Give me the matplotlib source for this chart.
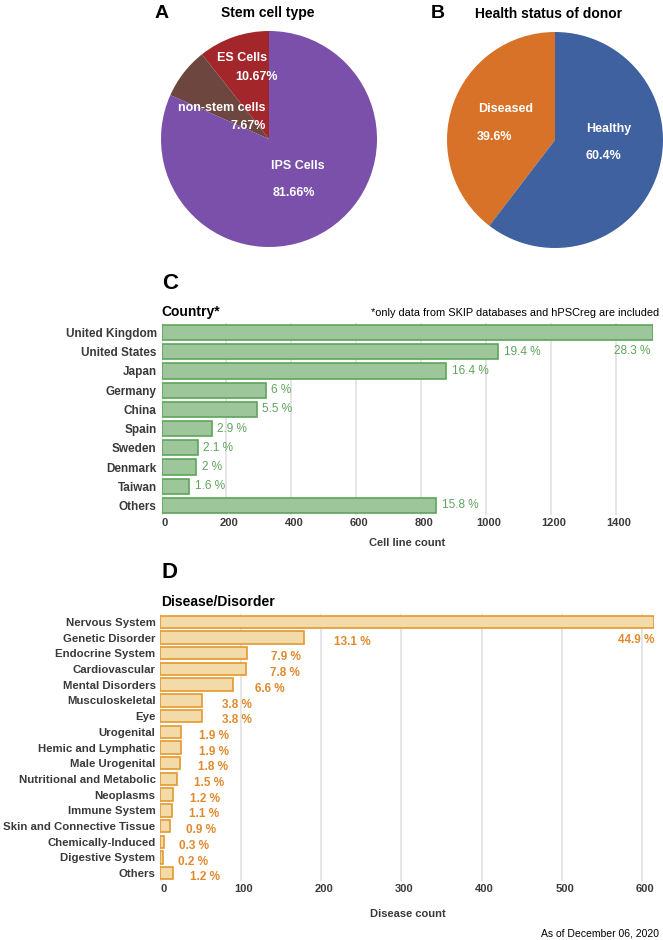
import matplotlib
matplotlib.use("Agg")
import matplotlib.pyplot as plt
import matplotlib.transforms as mtransforms

plt.rcParams["font.family"] = ["Liberation Sans", "DejaVu Sans"]

# Panel A: stem cell type
stem_labels = ["ES Cells", "non-stem cells", "IPS Cells"]
stem_pct = [10.67, 7.67, 81.66]
stem_colors = ["#a3262b", "#6c463f", "#7a50aa"]

# Panel B: donor health status
health_labels = ["Diseased", "Healthy"]
health_pct = [39.6, 60.4]
health_colors = ["#d87228", "#3f61a0"]

# Panel C: country
countries = ["United Kingdom", "United States", "Japan", "Germany", "China",
             "Spain", "Sweden", "Denmark", "Taiwan", "Others"]
country_counts = [1515, 1038, 878, 321, 294, 155, 112, 107, 86, 846]
country_pct = ["28.3 %", "19.4 %", "16.4 %", "6 %", "5.5 %",
               "2.9 %", "2.1 %", "2 %", "1.6 %", "15.8 %"]
country_ticks = [0, 200, 400, 600, 800, 1000, 1200, 1400]

# Panel D: disease / disorder
diseases = ["Nervous System", "Genetic Disorder", "Endocrine System", "Cardiovascular",
            "Mental Disorders", "Musculoskeletal", "Eye", "Urogenital",
            "Hemic and Lymphatic", "Male Urogenital", "Nutritional and Metabolic",
            "Neoplasms", "Immune System", "Skin and Connective Tissue",
            "Chemically-Induced", "Digestive System", "Others"]
disease_counts = [615, 179, 108, 107, 90, 52, 52, 26, 26, 25, 21, 16, 15, 12, 4, 3, 16]
disease_pct = ["44.9 %", "13.1 %", "7.9 %", "7.8 %", "6.6 %", "3.8 %", "3.8 %", "1.9 %",
               "1.9 %", "1.8 %", "1.5 %", "1.2 %", "1.1 %", "0.9 %", "0.3 %", "0.2 %", "1.2 %"]
disease_ticks = [0, 100, 200, 300, 400, 500, 600]

W, H = 663, 940
fig = plt.figure(figsize=(W / 100, H / 100), dpi=100)


def px_axes(left, top, width, height):
    return fig.add_axes([left / W, 1 - (top + height) / H, width / W, height / H])


def fig_text(x, y, s, **kw):
    fig.text(x / W, 1 - y / H, s, **kw)


def draw_pie(ax, values, colors):
    ax.pie(values, colors=colors, startangle=90, counterclock=True,
           wedgeprops=dict(linewidth=0))
    ax.set_xlim(-1, 1)
    ax.set_ylim(-1, 1)
    ax.set_aspect("equal")
    ax.axis("off")


txt = dict(color="white", fontsize=9, fontweight="bold", ha="center", va="center")

# --- A
ax_a = px_axes(161, 31, 216, 216)
draw_pie(ax_a, stem_pct, stem_colors)
ax_a.text(-0.25, 0.75, stem_labels[0], **txt)
ax_a.text(-0.12, 0.57, f"{stem_pct[0]}%", **txt)
ax_a.text(-0.44, 0.29, stem_labels[1], **txt)
ax_a.text(-0.19, 0.12, f"{stem_pct[1]}%", **txt)
ax_a.text(0.27, -0.25, stem_labels[2], **txt)
ax_a.text(0.23, -0.50, f"{stem_pct[2]}%", **txt)
fig_text(162, 14, "A", fontsize=14, fontweight="bold", ha="center", va="center")
fig_text(268, 13, "Stem cell type", fontsize=10, fontweight="bold", ha="center", va="center")

# --- B
ax_b = px_axes(447, 32, 216, 216)
draw_pie(ax_b, health_pct, health_colors)
ax_b.text(-0.46, 0.29, health_labels[0], **txt)
ax_b.text(-0.56, 0.03, f"{health_pct[0]}%", **txt)
ax_b.text(0.50, 0.10, health_labels[1], **txt)
ax_b.text(0.45, -0.15, f"{health_pct[1]}%", **txt)
fig_text(438, 14, "B", fontsize=14, fontweight="bold", ha="center", va="center")
fig_text(549, 14, "Health status of donor", fontsize=10, fontweight="bold", ha="center", va="center")

# tick labels sit a few px right of their grid line in the original
shift = mtransforms.ScaledTranslation(2 / 72, 0, fig.dpi_scale_trans)


def style_bar_axes(ax, ticks, xmax, ysize):
    ax.set_xlim(0, xmax)
    ax.set_xticks(ticks)
    ax.grid(axis="x", color="#e3e3e3", linewidth=1.3)
    ax.set_axisbelow(True)
    for s in ax.spines.values():
        s.set_visible(False)
    ax.tick_params(axis="x", length=0, labelsize=8, labelcolor="#3a3a3a", pad=2)
    ax.tick_params(axis="y", length=0, labelsize=ysize, labelcolor="#3a3a3a", pad=3.5)
    for lab in ax.get_xticklabels():
        lab.set_fontweight("bold")
        lab.set_transform(lab.get_transform() + shift)
    for lab in ax.get_yticklabels():
        lab.set_fontweight("bold")


# --- C
ax_c = px_axes(161.5, 323, 491.5, 192)
yc = list(range(len(countries)))
ax_c.barh(yc, country_counts, height=0.8, color="#9dc69a", edgecolor="#5ea55b", linewidth=1.2)
ax_c.set_yticks(yc)
ax_c.set_yticklabels(countries)
ax_c.set_ylim(len(countries) - 0.5, -0.5)
style_bar_axes(ax_c, country_ticks, max(country_counts), 8.5)
ax_c.set_xlabel("Cell line count", fontsize=8, fontweight="bold", color="#3a3a3a", labelpad=7)
for i, (v, p) in enumerate(zip(country_counts, country_pct)):
    if i == 0:
        ax_c.annotate(p, (v, i), xytext=(-2, -13), textcoords="offset points",
                      ha="right", va="center", fontsize=8.5, color="#5ea55b")
    else:
        ax_c.annotate(p, (v, i), xytext=(4, 0), textcoords="offset points",
                      ha="left", va="center", fontsize=8.5, color="#5ea55b")
fig_text(170, 283, "C", fontsize=16, fontweight="bold", ha="center", va="center")
fig_text(161, 312, "Country*", fontsize=10, fontweight="bold", ha="left", va="center")
fig_text(659, 313, "*only data from SKIP databases and hPSCreg are included",
         fontsize=7.9, ha="right", va="center")

# --- D
ax_d = px_axes(160.4, 614, 494, 267)
yd = list(range(len(diseases)))
ax_d.barh(yd, disease_counts, height=0.79, color="#f2dba9", edgecolor="#e4982f", linewidth=1.2)
ax_d.set_yticks(yd)
ax_d.set_yticklabels(diseases)
ax_d.set_ylim(len(diseases) - 0.5, -0.5)
style_bar_axes(ax_d, disease_ticks, max(disease_counts), 8.2)
ax_d.set_xlabel("Disease count", fontsize=8, fontweight="bold", color="#3a3a3a", labelpad=11)
for i, (v, p) in enumerate(zip(disease_counts, disease_pct)):
    if i == 0:
        ax_d.annotate(p, (v, i), xytext=(0, -13), textcoords="offset points",
                      ha="right", va="center", fontsize=8.5, fontweight="bold", color="#e08a2e")
    else:
        # the original places these labels further out for longer bars
        ax_d.annotate(p, (v * 1.1, i), xytext=(11, -3), textcoords="offset points",
                      ha="left", va="center", fontsize=8.5, fontweight="bold", color="#e08a2e")
fig_text(170, 573, "D", fontsize=16, fontweight="bold", ha="center", va="center")
fig_text(161, 602, "Disease/Disorder", fontsize=10, fontweight="bold", ha="left", va="center")

fig_text(659, 933, "As of December 06, 2020", fontsize=7.5, ha="right", va="center")

fig.savefig("out.png", dpi=100)
